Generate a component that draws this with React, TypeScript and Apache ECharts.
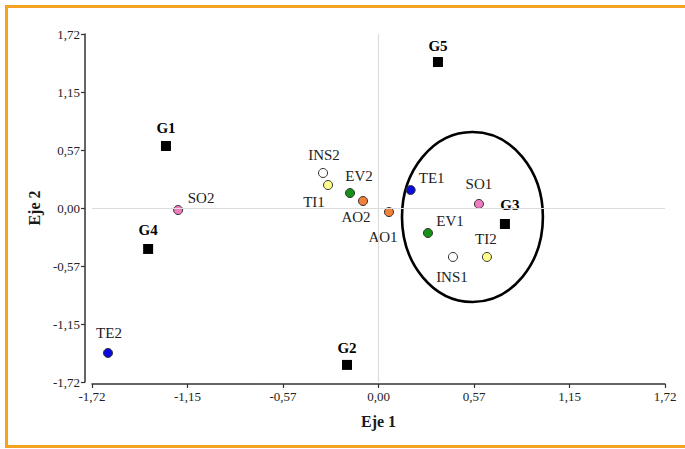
import React, { useEffect, useRef } from "react";
import * as echarts from "echarts";

// ---- data ----
const groupNames = ["G1", "G2", "G3", "G4", "G5"];
const groupEje1 = [-1.276, -0.189, 0.759, -1.383, 0.357];
const groupEje2 = [0.613, -1.551, -0.158, -0.405, 1.443];

const varNames = ["SO2", "TE2", "INS2", "TI1", "EV2", "AO2", "AO1", "TE1", "SO1", "EV1", "INS1", "TI2"];
const varEje1 = [-1.203, -1.624, -0.333, -0.303, -0.171, -0.093, 0.063, 0.193, 0.603, 0.297, 0.447, 0.651];
const varEje2 = [-0.02, -1.433, 0.346, 0.227, 0.148, 0.069, -0.04, 0.178, 0.04, -0.247, -0.484, -0.484];

// ellipse enclosing the cluster: center and radii in axis units
const ellipseCenter = [0.564, -0.089];
const ellipseRadii = [0.423, 0.84];

const axisMin = -1.72;
const axisMax = 1.72;
const axisStep = 1.72 / 3;

// ---- styles ----
const colorByPrefix: Record<string, string> = {
  TE: "#0a0adc",
  SO: "#f07cc0",
  EV: "#169016",
  AO: "#f2803a",
  TI: "#ffff8c",
  INS: "#ffffff",
};
const labelOffsets: Record<string, number[]> = {
  G1: [0, -18], G2: [0, -17], G3: [5, -19], G4: [0, -19], G5: [0, -16],
  SO2: [23, -12], TE2: [1, -20], INS2: [1, -18], TI1: [-14, 17], EV2: [9, -17],
  AO2: [-7, 16], AO1: [-6, 25], TE1: [21, -12], SO1: [0, -20], EV1: [22, -12],
  INS1: [-1, 20], TI2: [-1, -18],
};

const fmt = (v: number) => {
  const x = Math.abs(v) < 1e-9 ? 0 : v;
  return x.toFixed(2).replace(".", ",");
};

const FONT = "'Liberation Serif', 'DejaVu Serif', serif";

export default function App() {
  const ref = useRef<HTMLDivElement>(null);
  useEffect(() => {
    if (!ref.current) return;
    const chart = echarts.init(ref.current, undefined, { renderer: "svg" });
    const colorOf = (n: string) => {
      const p = n.replace(/\d+$/, "");
      return colorByPrefix[p] || "#fff";
    };
    const axisCommon = {
      type: "value" as const,
      min: axisMin,
      max: axisMax,
      interval: axisStep,
      splitLine: { show: false },
      axisLine: { show: true, onZero: false, lineStyle: { color: "#333", width: 1.5 } },
      axisTick: { show: true, length: 4, lineStyle: { color: "#333", width: 1.2 } },
      axisLabel: { formatter: fmt, fontFamily: FONT, fontSize: 13, color: "#222" },
      nameTextStyle: { fontFamily: FONT, fontSize: 16, fontWeight: "bold" as const, color: "#1a1a1a" },
    };
    chart.setOption({
      animation: false,
      backgroundColor: "#ffffff",
      grid: { left: 92, right: 20, top: 34, bottom: 67 },
      xAxis: {
        ...axisCommon,
        offset: 2,
        name: "Eje 1",
        nameLocation: "middle",
        nameGap: 29,
        axisLabel: { ...axisCommon.axisLabel, margin: 6 },
      },
      yAxis: {
        ...axisCommon,
        offset: 7,
        name: "Eje 2",
        nameLocation: "middle",
        nameGap: 40,
        axisLabel: { ...axisCommon.axisLabel, margin: 5 },
      },
      graphic: [
        {
          type: "rect",
          shape: { x: 6.5, y: 6.5, width: 800, height: 440 },
          style: { fill: "none", stroke: "#f5a121", lineWidth: 3 },
          silent: true,
        },
      ],
      series: [
        {
          type: "scatter",
          silent: true,
          data: [],
          markLine: {
            silent: true,
            symbol: "none",
            label: { show: false },
            lineStyle: { color: "#dcdcdc", width: 1.2, type: "solid" },
            data: [{ xAxis: 0 }, { yAxis: 0 }],
          },
        },
        {
          type: "custom",
          silent: true,
          data: [[ellipseCenter[0], ellipseCenter[1], ellipseRadii[0], ellipseRadii[1]]],
          renderItem: (params: any, api: any) => {
            const c = api.coord([api.value(0), api.value(1)]);
            const s = api.size([api.value(2), api.value(3)]);
            return {
              type: "ellipse",
              shape: { cx: c[0], cy: c[1], rx: s[0], ry: s[1] },
              style: { fill: "none", stroke: "#000", lineWidth: 2.6 },
            };
          },
          z: 1,
        },
        {
          type: "scatter",
          symbol: "circle",
          symbolSize: 9,
          z: 3,
          data: varNames.map((n, i) => ({
            name: n,
            value: [varEje1[i], varEje2[i]],
            itemStyle: { color: colorOf(n), borderColor: "#333", borderWidth: 1, opacity: 1 },
            label: {
              show: true,
              formatter: n,
              position: "inside",
              align: "center",
              verticalAlign: "middle",
              offset: labelOffsets[n],
              fontFamily: FONT,
              fontSize: 15,
              color: "#222",
            },
          })),
        },
        {
          type: "scatter",
          symbol: "rect",
          symbolSize: 10,
          z: 3,
          itemStyle: { color: "#000", opacity: 1 },
          data: groupNames.map((n, i) => ({
            name: n,
            value: [groupEje1[i], groupEje2[i]],
            label: {
              show: true,
              formatter: n,
              position: "inside",
              align: "center",
              verticalAlign: "middle",
              offset: labelOffsets[n],
              fontFamily: FONT,
              fontSize: 15,
              fontWeight: "bold",
              color: "#000",
            },
          })),
        },
      ],
    });
    return () => chart.dispose();
  }, []);
  return (
    <div
      ref={ref}
      style={{ position: "absolute", left: 0, top: 0, width: 685, height: 449, background: "#fff" }}
    />
  );
}
